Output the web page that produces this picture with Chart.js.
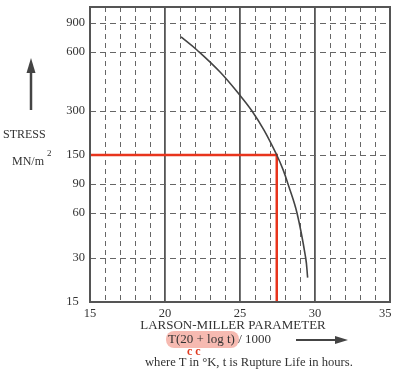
<!DOCTYPE html>
<html>
<head>
<meta charset="utf-8">
<script src="https://cdn.jsdelivr.net/npm/chart.js@4/dist/chart.umd.min.js"></script>
<style>
    body { margin: 0; background: #fff; }
    #wrap { position: relative; width: 394px; height: 369px; font-family: "Liberation Serif", serif; color: #333; }
    #chart { position: absolute; left: 0; top: 0; }
    .txt { position: absolute; white-space: nowrap; font-size: 12.5px; line-height: 14px; }
    .hl { position: absolute; background: rgba(240, 140, 125, 0.6); border-radius: 8px; }
    svg { position: absolute; left: 0; top: 0; }
</style>
</head>
<body>
<div id="wrap">
    <div class="hl" style="left:166px; top:331px; width:73px; height:17px;"></div>
    <canvas id="chart" width="394" height="369"></canvas>
    <svg width="394" height="369">
        <line x1="31" y1="70" x2="31" y2="110" stroke="#444" stroke-width="2.5"/>
        <polygon points="31,58 26.5,73 35.5,73" fill="#444"/>
        <line x1="296" y1="340" x2="337" y2="340" stroke="#444" stroke-width="2"/>
        <polygon points="348,340 335,336 335,344" fill="#444"/>
        <text x="187" y="355" fill="#e03a20" font-size="12" font-family="Liberation Serif" font-weight="bold">c c</text>
    </svg>
    <div class="txt" style="left:3px; top:127px; font-size:12px;">STRESS</div>
    <div class="txt" style="left:12px; top:150px; font-size:12px;">MN/m<sup style="font-size:9px; position:relative; top:-4px; left:3px;">2</sup></div>
    <div class="txt" style="left:133px; top:318px; width:200px; text-align:center; font-size:13px;">LARSON-MILLER PARAMETER</div>
    <div class="txt" style="left:168px; top:332px; font-size:13px;">T(20 + log t) / 1000</div>
    <div class="txt" style="left:145px; top:355px; font-size:12.6px;">where T in °K, t is Rupture Life in hours.</div>
</div>
<script>
// data
var stressTicks = [15, 30, 60, 90, 150, 300, 600, 900];
var lmpTicks = [15, 20, 25, 30, 35];

var curveLmp = [21.07, 22.13, 23.67, 25.07, 25.8, 26.6, 27.45, 27.87, 28.2, 28.8, 29.38, 29.51];
var curveStress = [741, 617, 474, 355, 300, 222, 150, 116, 90, 60, 30, 22];

var markLmp = [15, 27.45, 27.45];
var markStress = [150, 150, 15];

// uneven stress axis of the printed chart: offset (px above the bottom) of each knot
var knotValues = [15, 30, 60, 90, 150, 300, 600, 900, 1125];
var knotOffsets = [0, 44, 89, 118, 147, 191, 250, 279, 295];

class StressScale extends Chart.Scale {
    determineDataLimits() {
        this.min = knotValues[0];
        this.max = knotValues[knotValues.length - 1];
    }
    buildTicks() {
        return stressTicks.map(function (v) { return { value: v }; });
    }
    getLabelForValue(v) {
        return String(v);
    }
    getPixelForValue(v) {
        var total = knotOffsets[knotOffsets.length - 1];
        var i = 0;
        while (i < knotValues.length - 2 && v > knotValues[i + 1]) i++;
        var t = Math.log(v / knotValues[i]) / Math.log(knotValues[i + 1] / knotValues[i]);
        var off = knotOffsets[i] + t * (knotOffsets[i + 1] - knotOffsets[i]);
        return this.getPixelForDecimal(off / total);
    }
    getValueForPixel(p) {
        var total = knotOffsets[knotOffsets.length - 1];
        var off = this.getDecimalForPixel(p) * total;
        var i = 0;
        while (i < knotOffsets.length - 2 && off > knotOffsets[i + 1]) i++;
        var t = (off - knotOffsets[i]) / (knotOffsets[i + 1] - knotOffsets[i]);
        return knotValues[i] * Math.pow(knotValues[i + 1] / knotValues[i], t);
    }
}
StressScale.id = 'stress';
StressScale.defaults = {};
Chart.register(StressScale);

function pts(xs, ys) {
    return xs.map(function (x, i) { return { x: x, y: ys[i] }; });
}

var frame = {
    id: 'frame',
    afterDraw: function (chart) {
        var a = chart.chartArea, ctx = chart.ctx;
        ctx.save();
        ctx.strokeStyle = '#555';
        ctx.lineWidth = 2;
        ctx.strokeRect(a.left, a.top, a.right - a.left, a.bottom - a.top);
        ctx.restore();
    }
};

var ctx = document.getElementById('chart');
var myChart = new Chart(ctx, {
    type: 'scatter',
    data: {
        datasets: [{
            data: pts(curveLmp, curveStress),
            showLine: true,
            borderColor: '#444',
            borderWidth: 1.6,
            pointRadius: 0,
            tension: 0.4
        }, {
            data: pts(markLmp, markStress),
            showLine: true,
            borderColor: '#e8341c',
            borderWidth: 2.5,
            pointRadius: 0,
            tension: 0
        }]
    },
    plugins: [frame],
    options: {
        responsive: false,
        animation: false,
        events: [],
        layout: { padding: { top: 7, right: 4, left: 0, bottom: 0 } },
        plugins: { legend: { display: false }, tooltip: { enabled: false } },
        scales: {
            x: {
                type: 'linear',
                min: 15,
                max: 35,
                afterFit: function (s) { s.height = 67; s.paddingLeft = 0; s.paddingRight = 0; },
                ticks: {
                    stepSize: 1,
                    autoSkip: false,
                    maxRotation: 0,
                    padding: 4,
                    color: '#333',
                    font: { family: 'Liberation Serif', size: 12.5 },
                    // the last label sits a little inside the frame, as printed
                    callback: function (v) {
                        if (lmpTicks.indexOf(v) < 0) return '';
                        return v === 35 ? '35   ' : String(v);
                    }
                },
                grid: {
                    drawTicks: false,
                    color: function (c) { return c.tick && lmpTicks.indexOf(c.tick.value) >= 0 ? '#555' : '#666'; },
                    lineWidth: function (c) { return c.tick && lmpTicks.indexOf(c.tick.value) >= 0 ? 1.8 : 1; }
                },
                border: {
                    display: false,
                    dash: function (c) { return c.tick && lmpTicks.indexOf(c.tick.value) >= 0 ? [] : [5, 4]; }
                }
            },
            y: {
                type: 'stress',
                position: 'left',
                afterFit: function (s) { s.width = 90; s.paddingTop = 0; s.paddingBottom = 0; },
                ticks: {
                    padding: 5,
                    color: '#333',
                    font: { family: 'Liberation Serif', size: 12.5 },
                    callback: function (v) { return v === 15 ? '15  ' : String(v); }
                },
                grid: {
                    drawTicks: false,
                    color: '#666',
                    lineWidth: 1
                },
                border: {
                    display: false,
                    dash: [6, 4]
                }
            }
        }
    }
});
</script>
</body>
</html>
